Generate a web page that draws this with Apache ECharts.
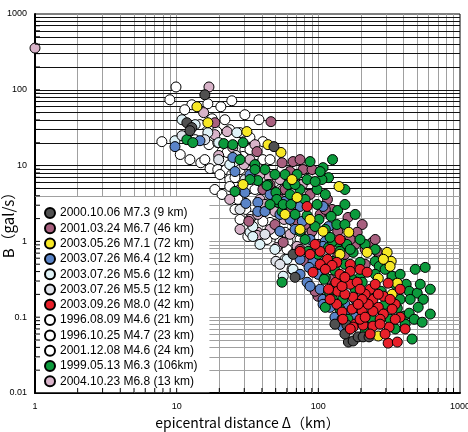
<!DOCTYPE html>
<html>
<head>
<meta charset="utf-8">
<script src="https://cdn.jsdelivr.net/npm/echarts@6/dist/echarts.min.js"></script>
<style>
html,body{margin:0;padding:0;background:#fff;}
#chart{width:468px;height:432px;}
</style>
</head>
<body>
<div id="chart"></div>
<script>
// [epicentral distance (km), B (gal/s)]
const ev20001006 = [[15.8,86],[11.8,36.8],[12.8,31.7],[12.4,28.9],[48.6,17.8],[66.3,0.675],[68.5,0.336],[147,0.094],
  [159,0.079],[163,0.047],[176,0.0485],[191,0.055],[207,0.055],[228,0.055],[131,0.081],[154,0.06]];
const ev20010324 = [[18.6,36.8],[46.3,38],[36.9,15.3],[55.4,10.9],[66.3,11.3],[63.1,8.35],[77.9,8.87],[116,3.58],
  [121,2.27],[125,2.64],[162,2.07],[204,1.67],[188,1.32],[103,0.428],[260,0.739],[99.6,0.189],[94.9,0.22],
  [32.3,1.84],[63.1,2.48],[53.6,3.58],[71.9,1.84],[90.3,1.36],[137,0.637],[173,0.468],[80.6,0.546],[240,0.97],
  [58.2,4.84],[68.5,3.07],[103,2.27],[80.6,1.67],[137,1.36],[49.4,1.67],[99.6,0.913],[182,0.913],[154,0.675],
  [214,0.498],[121,0.316],[40.6,4.84],[74.3,12],[90.3,8.87],[56.5,0.97],[252,1.06],[45.6,5.63],[87.4,4.16],
  [112,2.64],[168,1.06],[214,0.785],[74.3,0.785]];
const ev20030526 = [[13.9,59.8],[16.6,36.8],[31.3,28.1],[44.1,18.9],[54.5,14.9],[29.4,5.63],[140,5.3],[70.8,3.8],
  [65.2,6.55],[87.4,1.95],[108,1.36],[164,1.32],[221,0.716],[306,0.716],[327,0.546],[288,0.58],[321,0.468],
  [265,0.326],[361,0.281],[332,0.201],[265,0.0565],[74.3,1.44],[58.2,2.27],[142,0.675]];
const ev20030726a = [[9.73,17.8],[14.6,21.3],[24.9,12.8],[25.8,8.35],[30.3,4.42],[37.4,3.27],[30.8,3.17],[37.4,2.48],
  [42,2.48],[58.2,3.37],[74.3,2.89],[108,2.89],[77.1,1.84],[118,1.57],[87.4,1.06],[112,1],[108,0.86],[91.7,0.546],
  [86,0.454],[83.3,0.289],[87.4,0.256],[108,0.172],[108,0.148],[121,0.135],[149,0.074],[225,0.074],[135,0.234],
  [182,0.172],[154,0.12],[45.6,4.16],[63.1,1.95],[74.3,0.58],[99.6,0.368],[121,0.201],[154,0.148],[182,0.1],
  [131,0.1],[32.9,7.63],[53.6,1.36],[103,0.234],[53.6,2.27],[68.5,1.44],[94.9,0.785],[121,0.498],[74.3,0.368]];
const ev20030726b = [[10.9,40.3],[9.73,21.3],[16.6,27.2],[19.8,20.1],[26.6,27.2],[26.6,13.2],[74.3,3.69],[32.9,1.32],
  [34.5,1.16],[34.5,1.57],[60.1,0.58],[66.3,0.428],[56.5,0.347],[13.5,34.7],[23.7,10.3],[49.4,0.785],[38.7,0.913]];
const ev20030726c = [[10.9,24.8],[26.2,13.6],[63.1,3.27],[28,2.64],[42,1.24],[50.2,0.546],[19.8,12],[15.8,22],
  [30.3,6.55],[53.6,0.498]];
const ev20030926 = [[83.3,2.89],[74.3,0.739],[103,0.739],[116,0.58],[135,0.53],[168,0.498],[91.7,0.392],[125,0.483],
  [168,0.403],[197,0.428],[221,0.392],[168,0.272],[133,0.289],[188,0.289],[311,0.281],[232,0.234],[137,0.22],
  [176,0.184],[288,0.189],[243,0.172],[135,0.148],[265,0.135],[173,0.128],[204,0.12],[243,0.12],[147,0.117],
  [288,0.11],[149,0.094],[273,0.094],[182,0.081],[176,0.074],[207,0.0786],[243,0.0763],[316,0.074],[311,0.0455],
  [361,0.047],[94.9,0.913],[154,0.201],[214,0.201],[252,0.272],[197,0.094],[118,0.234],[349,0.148],[378,0.1],
  [225,0.148],[142,0.368],[103,0.498],[147,0.256],[204,0.172],[265,0.201],[332,0.128],[214,0.1],[168,0.07],
  [232,0.06],[273,0.081],[349,0.094],[112,0.428],[154,0.336],[191,0.148],[121,0.172],[87.4,0.675],[296,0.06],
  [410,0.07],[121,0.785],[142,1.06],[197,0.234],[321,0.172],[378,0.234]];
const ev19960809 = [[9.89,109],[12.8,63.5],[16.6,65.5],[20.5,59.8],[24.5,71.7],[17.8,41.5],[38.1,40.3],[28,27.2],
  [32.9,23.5],[40.6,20.7],[7.86,20.7],[16.9,18.9],[19.5,20.1],[20.9,15.3],[22.7,14.9],[14.8,10.9],[8.95,73.9],
  [11.4,54.6],[14.6,34.7],[21.9,40.3],[30.3,46.9],[10.6,14],[23.7,29.8],[30.3,16.3]];
const ev19961025 = [[17.2,9.14],[19.5,8.87],[22.3,8.87],[24.5,7.63],[31.3,7.63],[36.9,10.3],[40.6,12],[29.4,13.2],
  [23.7,6.55],[23.7,5.3],[55.4,8.87],[27.1,3.58],[30.8,2.64],[33.9,2.14],[28,1.95],[19.2,28.1],[27.1,10],
  [12.4,12],[32.9,16.3],[45.6,12],[13.5,22],[15.8,12],[20.2,7.63],[28,8.87],[18.6,4.84],[20.9,4.16],[25.8,2.64]];
const ev20011208 = [[31.8,1.16],[43.4,1.06],[45.6,1.78],[53.6,1],[61.1,1],[58.2,1.32],[83.3,4.16],[49.4,6.16],
  [58.2,0.58],[65.2,0.428],[60.1,0.785],[25.8,6.94],[32.9,4.99],[42,4.16],[70.8,1.44],[35.7,4.84],[40.6,1.84],
  [49.4,1.24],[74.3,1.06]];
const ev19990513 = [[11.8,22],[13,20.1],[21.5,19.5],[24.9,18.9],[29.4,20.1],[37.4,6.35],[25.8,4.56],[32.9,6.55],
  [44.1,5.63],[50.2,4.42],[51.9,3.27],[55.4,2.48],[87.4,11.3],[108,9.4],[126,12],[118,6.94],[106,6.55],[70.8,7.63],
  [83.3,6.55],[98,4.84],[137,2.56],[43.4,5.46],[61.1,5.63],[94.9,6.16],[98,3.07],[50.9,3.58],[56.5,3.07],[64.1,3.07],
  [83.3,2.2],[101,1.95],[123,2.14],[94.9,1.57],[135,1.67],[137,0.97],[84.7,0.739],[142,0.739],[176,0.716],
  [118,0.83],[137,0.53],[197,0.53],[112,0.336],[147,0.347],[197,0.336],[131,0.272],[55.4,0.289],[126,1],
  [159,0.913],[252,0.546],[269,0.468],[568,0.454],[154,0.498],[131,0.415],[332,0.347],[110,0.316],[173,0.316],
  [204,0.289],[417,0.272],[438,0.22],[499,0.208],[551,0.172],[277,0.22],[118,0.22],[149,0.172],[126,0.172],
  [378,0.172],[507,0.135],[361,0.131],[112,0.135],[321,0.094],[403,0.103],[438,0.113],[475,0.094],[541,0.0858],
  [221,0.103],[214,0.0636],[459,0.0515],[42,8.87],[58.2,7.63],[74.3,4.84],[63.1,4.16],[80.6,3.58],[112,4.16],
  [154,3.07],[68.5,2.27],[112,1.44],[154,1.67],[80.6,1.06],[99.6,0.675],[125,0.546],[168,0.785],[214,0.913],
  [252,0.368],[296,0.428],[349,0.272],[378,0.368],[445,0.172],[617,0.11],[524,0.272],[296,0.148],[240,0.094],
  [182,0.234],[142,0.128],[162,0.094],[349,0.07],[410,0.081],[28,12],[35.7,10.3],[45.6,3.07],[35.7,8.87],
  [49.4,7.63],[68.5,5.63],[103,8.35],[154,4.84],[182,2.27],[74.3,1.36],[121,1.13],[197,1.06],[252,0.785],
  [483,0.428],[617,0.234]];
const ev20041023 = [[1,355],[16.9,109],[15.5,50],[22.7,28.1],[19.8,13.6],[29.9,10.3],[35.7,18.9],[32.9,12],
  [44.8,7.17],[74.3,5.63],[56.5,4.84],[38.7,3.58],[32.9,1.95],[59.1,2.2],[57.3,1.95],[49.4,2.48],[66.3,1.84],
  [70.8,1.48],[50.9,0.83],[70.8,0.86],[37.4,1.32],[36.9,1.2],[37.4,2.27],[147,1.32],[77.1,5.63],[28,4.84],
  [42,3.07],[45.6,1.44],[63.1,1.24],[24.9,17.3],[18.6,25.6],[38.7,7.63],[53.6,6.55],[74.3,3.58],[87.4,1.24],
  [23.7,3.58],[28,1.44]];

// axis ticks / grid positions
const steps = [1, 2, 3, 4, 5, 6, 7, 8, 9];
const xDecades = [1, 10, 100];
const yDecades = [0.01, 0.1, 1, 10, 100];

const xGrid = xDecades.flatMap(d => steps.map(s => +(s * d).toPrecision(2))).filter(v => v > 1);
const yGrid = yDecades.flatMap(d => steps.map(s => +(s * d).toPrecision(2))).filter(v => v > 0.01);

const events = [
  { name: '2000.10.06 M7.3 (9 km)', color: '#505050', data: ev20001006 },
  { name: '2001.03.24 M6.7 (46 km)', color: '#a8607f', data: ev20010324 },
  { name: '2003.05.26 M7.1 (72 km)', color: '#f7e825', data: ev20030526 },
  { name: '2003.07.26 M6.4 (12 km)', color: '#5a84c8', data: ev20030726a },
  { name: '2003.07.26 M5.6 (12 km)', color: '#dff2f7', data: ev20030726b },
  { name: '2003.07.26 M5.5 (12 km)', color: '#dfe3ea', data: ev20030726c },
  { name: '2003.09.26 M8.0 (42 km)', color: '#e8202a', data: ev20030926 },
  { name: '1996.08.09 M4.6 (21 km)', color: '#ffffff', data: ev19960809 },
  { name: '1996.10.25 M4.7 (23 km)', color: '#ffffff', data: ev19961025 },
  { name: '2001.12.08 M4.6 (24 km)', color: '#ffffff', data: ev20011208 },
  { name: '1999.05.13 M6.3 (106km)', color: '#0c9a3c', data: ev19990513 },
  { name: '2004.10.23 M6.8 (13 km)', color: '#d8b3c9', data: ev20041023 }
];
// draw order (back to front)
const drawOrder = [7, 8, 9, 11, 4, 5, 1, 3, 10, 2, 0, 6];

const tickLine = (dir) => function (params, api) {
  const p = api.coord([api.value(0), api.value(1)]);
  return {
    type: 'line',
    shape: dir === 'x'
      ? { x1: p[0], y1: p[1], x2: p[0], y2: p[1] - 5 }
      : { x1: p[0], y1: p[1], x2: p[0] + 5, y2: p[1] },
    style: { stroke: '#000', lineWidth: 1 }
  };
};

const gridSeries = {
  type: 'scatter',
  data: [],
  silent: true,
  z: 1,
  markLine: {
    silent: true,
    z: 1,
    symbol: 'none',
    animation: false,
    label: { show: false },
    data: [
      ...xGrid.map(v => ({ xAxis: v, lineStyle: { color: '#a0a0a0', width: 1, type: 'solid' } })),
      ...yGrid.map(v => ({ yAxis: v, lineStyle: { color: v >= 5 ? '#111' : '#a0a0a0', width: 1, type: 'solid' } }))
    ]
  }
};

const fmt = v => String(+(+v).toPrecision(3));

const chart = echarts.init(document.getElementById('chart'));
chart.setOption({
  animation: false,
  textStyle: { fontFamily: 'Liberation Sans, Arial, sans-serif' },
  grid: {
    left: 35, right: 8, top: 14, bottom: 39,
    outerBoundsMode: 'none', containLabel: false,
    show: true, borderColor: '#000', borderWidth: 1
  },
  legend: {
    data: events.map(e => e.name),
    orient: 'vertical',
    left: 36,
    top: 197,
    z: 4,
    padding: [9, 12, 4, 8],
    backgroundColor: '#fff',
    icon: 'circle',
    itemWidth: 10,
    itemHeight: 10,
    itemGap: 1.3,
    textStyle: { fontSize: 12, lineHeight: 14, color: '#000', fontFamily: 'Liberation Sans, Arial, sans-serif' }
  },
  xAxis: {
    type: 'log', logBase: 10, min: 1, max: 1000,
    name: 'epicentral distance Δ（km）',
    nameLocation: 'middle', nameGap: 23,
    nameTextStyle: { fontSize: 14, color: '#000', fontFamily: 'Noto Sans CJK JP' },
    axisLine: { lineStyle: { color: '#000', width: 2 } },
    axisTick: { show: false },
    axisLabel: { fontSize: 9, color: '#000', margin: 9, formatter: fmt },
    splitLine: { show: false }
  },
  yAxis: {
    type: 'log', logBase: 10, min: 0.01, max: 1000,
    name: 'B（gal/s）',
    nameLocation: 'middle', nameGap: 19, nameRotate: 90,
    nameMoveOverlap: false,
    nameTextStyle: { fontSize: 15, color: '#000', fontFamily: 'Noto Sans CJK JP', padding: [0, 36, 0, 0] },
    axisLine: { lineStyle: { color: '#000', width: 2 } },
    axisTick: { show: false },
    axisLabel: { fontSize: 9, color: '#000', margin: 8, formatter: fmt },
    splitLine: { show: false }
  },
  series: [
    gridSeries,
    ...drawOrder.map(i => ({
      name: events[i].name,
      type: 'scatter',
      symbolSize: 10,
      z: 2,
      itemStyle: { color: events[i].color, borderColor: '#000', borderWidth: 1, opacity: 1 },
      data: events[i].data
    })),
    {
      type: 'custom', silent: true, z: 6, clip: false,
      renderItem: tickLine('x'),
      data: xGrid.map(v => [v, 0.01])
    },
    {
      type: 'custom', silent: true, z: 6, clip: false,
      renderItem: tickLine('y'),
      data: yGrid.map(v => [1, v])
    }
  ]
});
</script>
</body>
</html>
